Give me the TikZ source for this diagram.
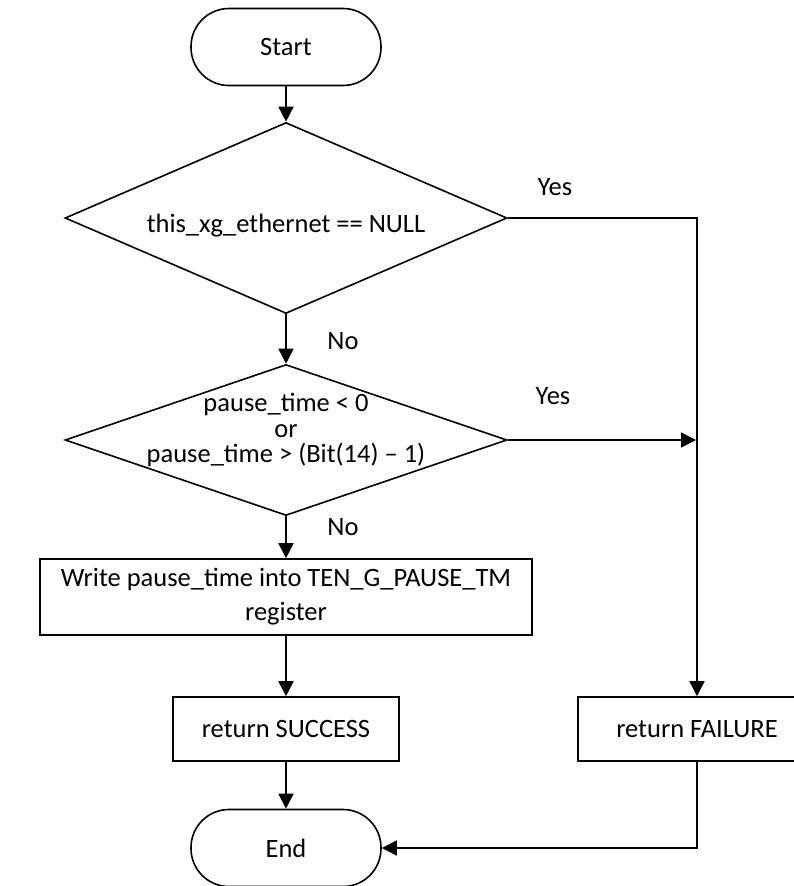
\documentclass[tikz,border=0pt]{standalone}
\usepackage{fontspec}
\setmainfont{Carlito}
\usetikzlibrary{arrows.meta,shapes.geometric}
\begin{document}
\begin{tikzpicture}[x=1pt,y=-1pt,
  line width=1.6pt,
  every node/.style={font=\fontsize{26.5}{31}\selectfont},
  terminal/.style={draw,rectangle,rounded corners=38pt,minimum width=190pt,minimum height=77pt,inner sep=0pt},
  decision/.style={draw,diamond,inner sep=0pt,minimum width=442pt},
  process/.style={draw,rectangle,minimum height=64pt,inner sep=0pt,align=center},
  flow/.style={-{Triangle[length=15pt,width=15pt]}},
  lbl/.style={inner sep=0pt}]
\useasboundingbox (0,0) rectangle (794,886);

% main column
\node[terminal] (start) at (286,47) {Start};
\node[decision,minimum height=191pt] (d1) at (286,218) {};
\node[lbl] (t1) at (286,226) {this\_xg\_ethernet == NULL};
\node[decision,minimum height=151pt] (d2) at (286,440) {};
\node[lbl,align=center,font=\fontsize{26.5}{25.5}\selectfont] (t2) at (286,430)
  {pause\_time < 0\\or\\pause\_time > (Bit(14) -- 1)};
\node[process,minimum width=492pt,minimum height=76pt,font=\fontsize{26.5}{34}\selectfont] (write) at (286,597)
  {Write pause\_time into TEN\_G\_PAUSE\_TM\\register};
\node[process,minimum width=226pt] (succ) at (286,729) {return SUCCESS};
\node[process,minimum width=238pt] (fail) at (697,729) {return FAILURE};
\node[terminal] (end) at (286,848) {End};

% branch labels
\node[lbl] (no1) at (343,341) {No};
\node[lbl] (no2) at (343,527) {No};
\node[lbl] (yes1) at (555,187) {Yes};
\node[lbl] (yes2) at (553,396) {Yes};

% connectors
\draw[flow] (start.south) -- (d1.north);
\draw[flow] (d1.south) -- (d2.north);
\draw[flow] (d2.south) -- (write.north);
\draw[flow] (write.south) -- (succ.north);
\draw[flow] (succ.south) -- (end.north);
\draw[flow] (d1.east) -| (fail.north);
\coordinate (join) at (fail.north |- d2.east);
\draw[flow,shorten >=1pt] (d2.east) -- (join);
\draw[flow] (fail.south) |- (end.east);
\end{tikzpicture}
\end{document}
